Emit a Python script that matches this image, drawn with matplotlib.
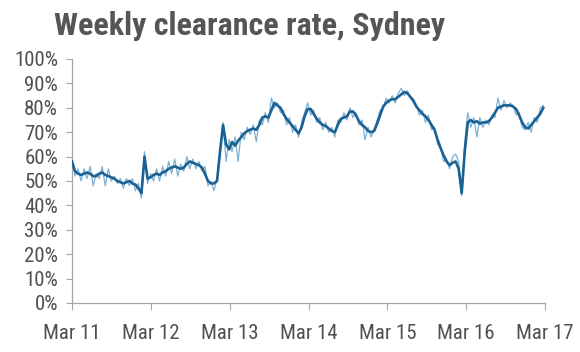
import numpy as np
import pandas as pd
import matplotlib
matplotlib.use("Agg")
import matplotlib.pyplot as plt
from matplotlib import font_manager

# Fortnightly readings, March 2011 onwards
start_date = "2011-03-01"
weekly_rate = [
    59, 52, 55, 50, 55, 51, 56, 48, 53, 51,
    56, 48, 55, 50, 52, 49, 51, 47, 51, 48,
    51, 46, 49, 43, 62, 49, 53, 50, 55, 50,
    56, 52, 58, 53, 59, 52, 57, 54, 60, 55,
    59, 55, 58, 54, 56, 48, 50, 46, 51, 60,
    74, 58, 67, 62, 68, 58, 70, 67, 72, 69,
    73, 66, 75, 73, 78, 74, 84, 80, 82, 78,
    79, 73, 76, 70, 73, 68, 74, 78, 82, 77,
    79, 74, 76, 71, 74, 70, 72, 68, 75, 74,
    78, 75, 80, 76, 78, 73, 75, 67, 72, 68,
    71, 75, 79, 80, 84, 82, 85, 82, 86, 88,
    85, 87, 84, 82, 81, 77, 79, 74, 77, 71,
    72, 65, 64, 58, 59, 55, 60, 61, 58, 44,
    66, 78, 72, 76, 68, 76, 72, 75, 73, 77,
    76, 84, 79, 83, 80, 82, 81, 77, 78, 72,
    71, 74, 70, 76, 74, 80, 81,
]
smoothed_rate = [
    58, 54, 53, 52.5, 53, 53.5, 53, 52, 52, 53,
    53.5, 52.5, 52, 51.5, 51, 50, 49.5, 49, 49.5, 50,
    49, 48.5, 47, 45, 60, 51, 51.5, 52.5, 53, 52.5,
    53.5, 54, 55, 55.5, 56, 55.5, 55, 55.5, 57, 58,
    57.5, 57, 56.5, 55.5, 53, 50, 49, 49, 50, 62,
    73, 65, 63, 66, 64.5, 66.5, 68, 69.5, 70.5, 71,
    71.5, 71, 73, 76, 76.5, 76, 79, 82, 81, 80,
    77.5, 75.5, 74, 72.5, 71, 69.5, 72, 76.5, 79.5, 79.5,
    77.5, 75.5, 74, 73, 72.5, 71.5, 70.5, 70, 73, 75.5,
    76, 76.5, 78.5, 78.5, 77, 74.5, 73, 72, 70.5, 70,
    70.5, 73.5, 77, 80.5, 82, 83, 83.5, 83.5, 84.5, 85.5,
    86.5, 86, 84.5, 83, 80.5, 79, 77.5, 76.5, 75, 73,
    71, 67, 63.5, 60.5, 58, 56.5, 57.5, 58, 55, 45,
    62, 74, 75, 74, 74.5, 73.5, 74, 74, 74.5, 76,
    78, 80, 80.5, 81, 81, 81, 80.5, 79.5, 77, 74,
    72, 71.5, 73, 74.5, 76, 77.5, 80,
]
x_ticks = ["2011-03-01", "2012-03-01", "2013-03-01", "2014-03-01",
           "2015-03-01", "2016-03-01", "2017-03-01"]
x_labels = ["Mar 11", "Mar 12", "Mar 13", "Mar 14", "Mar 15", "Mar 16", "Mar 17"]
y_ticks = list(range(0, 101, 10))

dates = pd.date_range(start_date, periods=len(weekly_rate), freq="14D")


def narrow_font(bold):
    # look for a narrow / condensed sans file, else plain Liberation Sans
    for key in ("LiberationSansNarrow", "RobotoCondensed",
                "DejaVuSansCondensed", "OpenSansCondensed", "Narrow", "Condensed"):
        for f in font_manager.fontManager.ttflist:
            fn = f.fname.replace("-", "").replace("_", "")
            if key.lower() in fn.lower() and "italic" not in fn.lower() \
                    and "oblique" not in fn.lower():
                is_bold = f.weight in ("bold", 700) or "bold" in fn.lower()
                if is_bold == bold:
                    return font_manager.FontProperties(fname=f.fname), True
    return font_manager.FontProperties(
        family="Liberation Sans", weight="bold" if bold else "normal"), False


label_fp, narrow = narrow_font(False)
title_fp, narrow_t = narrow_font(True)
label_size = 15 if narrow else 13
title_size = 23 if narrow_t else 19.5

fig = plt.figure(figsize=(5.8, 3.52), dpi=100)
ax = fig.add_axes([72 / 580, 49 / 352, 473 / 580, 244 / 352])

ax.plot(dates, weekly_rate, color="#7db0d6", lw=0.9, zorder=2)
ax.plot(dates, smoothed_rate, color="#1a6194", lw=1.9, zorder=3)

ax.set_ylim(0, 100)
ax.set_xlim(pd.Timestamp(x_ticks[0]), pd.Timestamp(x_ticks[-1]))
ax.set_yticks(y_ticks)
ax.set_yticklabels([f"{v}%" for v in y_ticks])
ax.set_xticks([pd.Timestamp(d) for d in x_ticks])
ax.set_xticklabels(x_labels)

for s in ["top", "right"]:
    ax.spines[s].set_visible(False)
for s in ["left", "bottom"]:
    ax.spines[s].set_color("#a6a6a6")
    ax.spines[s].set_linewidth(0.9)

ax.tick_params(axis="y", direction="out", length=4, color="#a6a6a6",
               labelcolor="#505050", pad=6)
ax.tick_params(axis="x", direction="out", length=5, color="#a6a6a6",
               labelcolor="#505050", pad=10)
for lab in ax.get_xticklabels() + ax.get_yticklabels():
    lab.set_fontproperties(label_fp)
    lab.set_fontsize(label_size)

fig.text(54 / 580, 1 - 35 / 352, "Weekly clearance rate, Sydney",
         fontproperties=title_fp, fontsize=title_size, color="#555555",
         ha="left", va="baseline")

fig.savefig("out.png", dpi=100)
